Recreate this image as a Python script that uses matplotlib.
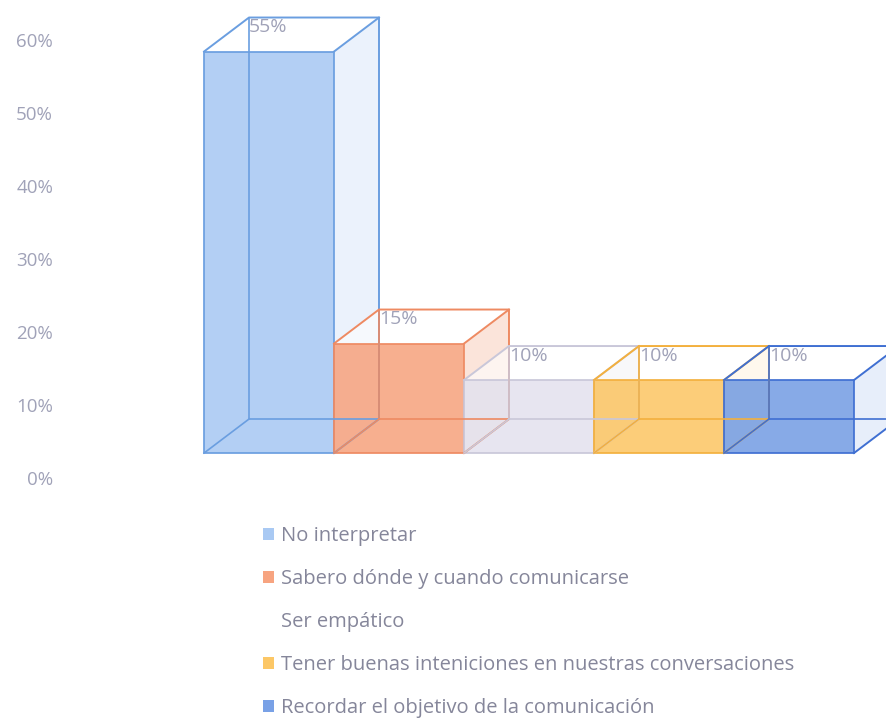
import matplotlib.pyplot as plt
from matplotlib.patches import Polygon, Patch

plt.rcParams['font.family'] = ['Open Sans', 'DejaVu Sans']

# survey answers and their shares (%)
categories = [
    "No interpretar",
    "Sabero dónde y cuando comunicarse",
    "Ser empático",
    "Tener buenas inteniciones en nuestras conversaciones",
    "Recordar el objetivo de la comunicación",
]
values = [55, 15, 10, 10, 10]
value_labels = ["55%", "15%", "10%", "10%", "10%"]
y_ticks = [0, 10, 20, 30, 40, 50, 60]

# front / edge / side colours per bar
front_colors = ["#a9c9f3", "#f7a480", "#e4e2ee", "#fcc766", "#769ee4"]
edge_colors = ["#6a9ee0", "#ee8a62", "#c9c7d9", "#f3b03e", "#3f6fd2"]
side_colors = ["#ebf2fc", "#fbe4da", "#f0eff5", "#fdf0d4", "#e7eefa"]
legend_colors = ["#a9c9f3", "#f7a480", "#ffffff", "#fcc766", "#79a1e6"]

# fake 3d geometry (data units)
base = 3.42    # front floor level
dx = 0.346     # depth shift in x
dy = 4.66      # depth shift in y
width = 1.0

fig = plt.figure(figsize=(8.87, 7.19), dpi=100)
ax = fig.add_axes([60 / 887, 0, 827 / 887, 1])
ax.set_xlim(-1.108, 5.254)
ax.set_ylim(-33.01, 65.48)

for i, v in enumerate(values):
    x0, x1 = i, i + width
    y0, y1 = base, base + v
    ec = edge_colors[i]
    # right side and top faces
    ax.add_patch(Polygon([(x1, y0), (x1 + dx, y0 + dy), (x1 + dx, y1 + dy), (x1, y1)],
                         closed=True, facecolor=side_colors[i], edgecolor='none'))
    ax.add_patch(Polygon([(x0, y1), (x0 + dx, y1 + dy), (x1 + dx, y1 + dy), (x1, y1)],
                         closed=True, facecolor='#ffffff', alpha=0.6, edgecolor='none'))
    # hidden back edges
    ax.plot([x0 + dx, x0 + dx, x1 + dx], [y1 + dy, y0 + dy, y0 + dy], color=ec, lw=1.2)
    ax.plot([x0, x0 + dx], [y0, y0 + dy], color=ec, lw=1.2)
    # front face
    ax.add_patch(Polygon([(x0, y0), (x1, y0), (x1, y1), (x0, y1)], closed=True,
                         facecolor=front_colors[i], alpha=0.88, edgecolor=ec, lw=1.4))
    # visible outer edges
    ax.plot([x0, x0 + dx, x1 + dx, x1 + dx, x1], [y1, y1 + dy, y1 + dy, y0 + dy, y0],
            color=ec, lw=1.4)
    ax.plot([x1, x1 + dx], [y1, y1 + dy], color=ec, lw=1.4)
    ax.text(x0 + dx, y1 + dy - 0.1, value_labels[i], ha='left', va='top',
            fontsize=14, color='#a0a2b8')

ax.set_yticks(y_ticks)
ax.set_yticklabels([f"{t}%" for t in y_ticks], fontsize=13.5, color='#a0a2b8')
ax.tick_params(axis='y', length=0, pad=5)
ax.set_xticks([])
for s in ax.spines.values():
    s.set_visible(False)

handles = [Patch(facecolor=c, edgecolor='none') for c in legend_colors]
fig.legend(handles, categories, loc='upper left', bbox_to_anchor=(263 / 887, 1 - 526 / 719),
           bbox_transform=fig.transFigure, frameon=False, fontsize=14.5,
           labelcolor='#85869a', handlelength=0.55, handleheight=0.55,
           handletextpad=0.35, labelspacing=1.14, borderpad=0, borderaxespad=0)

fig.savefig("out.png", dpi=100)
